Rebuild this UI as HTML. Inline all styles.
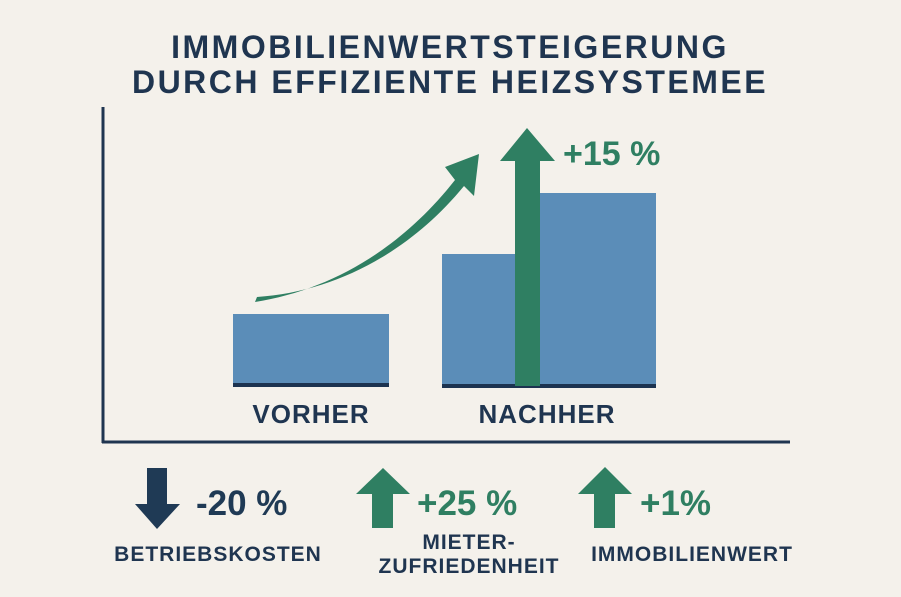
<!DOCTYPE html>
<html><head><meta charset="utf-8"><style>
html,body{margin:0;padding:0;background:#f4f1eb;}
svg{display:block;}
text{font-family:"Liberation Sans","DejaVu Sans",sans-serif;font-weight:bold;}
</style></head><body>
<svg width="901" height="597" viewBox="0 0 901 597" xmlns="http://www.w3.org/2000/svg">
<rect width="901" height="597" fill="#f4f1eb"/>
<text x="450" y="58" text-anchor="middle" font-size="32" fill="#1f3550" letter-spacing="2.5">IMMOBILIENWERTSTEIGERUNG</text>
<text x="450" y="93" text-anchor="middle" font-size="32" fill="#1f3550" letter-spacing="2.5">DURCH EFFIZIENTE HEIZSYSTEMEE</text>
<line x1="103" y1="107" x2="103" y2="443" stroke="#1f3550" stroke-width="3"/>
<line x1="102" y1="442" x2="790" y2="442" stroke="#1f3550" stroke-width="3"/>
<rect x="233" y="314" width="156" height="71" fill="#5b8db8"/>
<rect x="233" y="383" width="156" height="4" fill="#1c3350"/>
<rect x="442" y="254" width="100" height="131" fill="#5b8db8"/>
<rect x="540" y="193" width="116" height="192" fill="#5b8db8"/>
<rect x="442" y="384" width="214" height="4" fill="#1c3350"/>
<polygon points="515,386 540,386 540,161 555,161 527,128 500,161 515,161" fill="#2f7f62"/>
<text x="563" y="165" font-size="34" fill="#2f7f62">+15 %</text>
<path d="M255,302 C330,290 400,250 455,180 L445,167 L479,154 L474,196 L464,186 C410,252 335,292 257,297 Z" fill="#2f7f62"/>
<text x="311" y="423" text-anchor="middle" font-size="26" fill="#1f3550" letter-spacing="1">VORHER</text>
<text x="547" y="423" text-anchor="middle" font-size="26" fill="#1f3550" letter-spacing="1">NACHHER</text>
<polygon points="147,468 167,468 167,504 180,504 157,529 135,504 147,504" fill="#1f3a55"/>
<text x="196" y="515" font-size="35" fill="#1f3a55">-20 %</text>
<polygon points="383,468 410,494 393,494 393,528 372,528 372,494 356,494" fill="#2f7f62"/>
<text x="417" y="515" font-size="35" fill="#2f7f62">+25 %</text>
<polygon points="605,467 632,494 615,494 615,528 594,528 594,494 578,494" fill="#2f7f62"/>
<text x="640" y="515" font-size="35" fill="#2f7f62">+1%</text>
<text x="218" y="561" text-anchor="middle" font-size="21" fill="#1f3550" letter-spacing="1">BETRIEBSKOSTEN</text>
<text x="469" y="549" text-anchor="middle" font-size="21" fill="#1f3550" letter-spacing="1">MIETER-</text>
<text x="469" y="573" text-anchor="middle" font-size="21" fill="#1f3550" letter-spacing="1">ZUFRIEDENHEIT</text>
<text x="692" y="561" text-anchor="middle" font-size="21" fill="#1f3550" letter-spacing="1">IMMOBILIENWERT</text>
</svg>
</body></html>
